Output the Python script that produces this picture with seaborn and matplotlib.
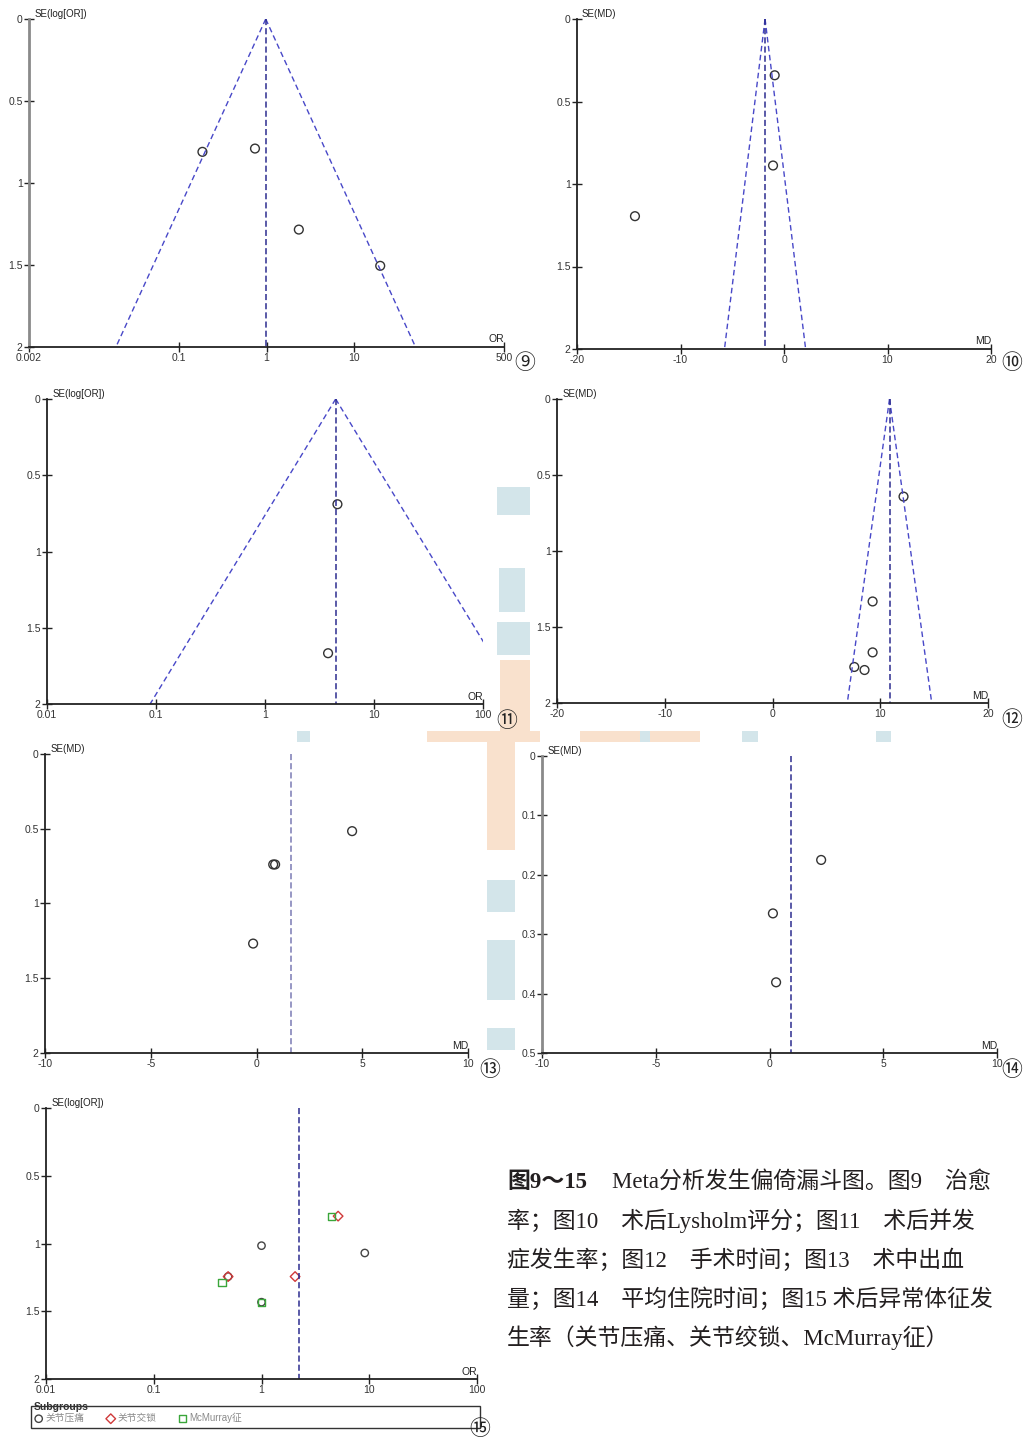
import numpy as np
import pandas as pd
import seaborn as sns
import matplotlib.pyplot as plt
from matplotlib.patches import Rectangle

W, H = 1024, 1438

# Fig 9 - cure rate (OR)
p9_or = [0.187, 0.74, 2.33, 19.6]
p9_se = [0.81, 0.79, 1.284, 1.505]
p9_pooled = 0.98

# Fig 10 - Lysholm score (MD)
p10_md = [-0.9, -1.06, -14.4]
p10_se = [0.341, 0.888, 1.195]
p10_pooled = -1.83

# Fig 11 - complications (OR)
p11_or = [4.62, 3.79]
p11_se = [0.69, 1.667]
p11_pooled = 4.45

# Fig 12 - operation time (MD)
p12_md = [12.16, 9.29, 9.29, 7.59, 8.54]
p12_se = [0.642, 1.332, 1.667, 1.763, 1.783]
p12_pooled = 10.86

# Fig 13 - blood loss (MD)
p13_md = [4.52, 0.79, 0.88, -0.16]
p13_se = [0.516, 0.739, 0.739, 1.268]
p13_pooled = 1.64

# Fig 14 - hospital stay (MD)
p14_md = [2.27, 0.15, 0.29]
p14_se = [0.175, 0.265, 0.381]
p14_pooled = 0.94

# Fig 15 - abnormal signs (OR), three subgroups
groups = ["关节压痛", "关节交锁", "McMurray征"]
p15_or = {
    "关节压痛": [1.0, 9.09, 0.49, 1.0],
    "关节交锁": [5.14, 2.05, 0.49],
    "McMurray征": [4.46, 0.43, 1.0],
}
p15_se = {
    "关节压痛": [1.016, 1.07, 1.244, 1.433],
    "关节交锁": [0.798, 1.244, 1.244],
    "McMurray征": [0.802, 1.286, 1.433],
}
p15_pooled = 2.25

or_ticks_9 = [0.002, 0.1, 1, 10, 500]
or_ticks = [0.01, 0.1, 1, 10, 100]
md_ticks_20 = [-20, -10, 0, 10, 20]
md_ticks_10 = [-10, -5, 0, 5, 10]
se_ticks = [0, 0.5, 1, 1.5, 2]
se_ticks_14 = [0, 0.1, 0.2, 0.3, 0.4, 0.5]

caption_lines = [
    "率；图10　术后Lysholm评分；图11　术后并发",
    "症发生率；图12　手术时间；图13　术中出血",
    "量；图14　平均住院时间；图15 术后异常体征发",
    "生率（关节压痛、关节绞锁、McMurray征）",
]

FUNNEL = "#4848c8"
MID = "#2c2c90"
CJK = ["Noto Sans CJK SC", "DejaVu Sans"]

sns.set_style("white")
plt.rcParams["font.family"] = ["Liberation Sans", "Noto Sans CJK SC", "DejaVu Sans"]


def add_panel(fig, box):
    x0, y0, x1, y1 = box
    return fig.add_axes([x0 / W, 1 - y1 / H, (x1 - x0) / W, (y1 - y0) / H])


def style_axes(ax, xticks, yticks, xname, yname, log=False, gray_left=False):
    if log:
        ax.set_xscale("log")
    ax.set_xlim(xticks[0], xticks[-1])
    ax.set_ylim(yticks[-1], yticks[0])
    ax.set_xticks(xticks, labels=[f"{t:g}" for t in xticks])
    ax.set_yticks(yticks, labels=[f"{t:g}" for t in yticks])
    ax.xaxis.set_minor_locator(plt.NullLocator())
    ax.set_xlabel("")
    ax.set_ylabel("")
    ax.spines[["top", "right"]].set_visible(False)
    ax.spines["bottom"].set_linewidth(1.3)
    ax.spines["bottom"].set_color("#222222")
    if gray_left:
        ax.spines["left"].set_linewidth(2)
        ax.spines["left"].set_color("#8a8a8a")
    else:
        ax.spines["left"].set_linewidth(1.3)
        ax.spines["left"].set_color("#222222")
    ax.tick_params(axis="both", which="major", direction="inout", length=7, width=1,
                   left=True, bottom=True, color="#222222",
                   labelsize=7.5, pad=1, labelcolor="#333333")
    ax.text(0.012, 1.0, yname, transform=ax.transAxes, ha="left", va="bottom",
            fontsize=7, color="#222222")
    ax.text(1.0, 0.008, xname, transform=ax.transAxes, ha="right", va="bottom",
            fontsize=7.5, color="#222222")


def draw_funnel(ax, pooled, se_max, log=False, lines=True, mid_color=MID):
    se = np.array([0.0, se_max])
    if lines:
        if log:
            left = pooled * np.exp(-1.96 * se)
            right = pooled * np.exp(1.96 * se)
        else:
            left = pooled - 1.96 * se
            right = pooled + 1.96 * se
        for xs in (left, right):
            sns.lineplot(x=xs, y=se, ax=ax, sort=False, estimator=None,
                         color=FUNNEL, linewidth=1, linestyle=(0, (4, 2.5)))
    sns.lineplot(x=[pooled, pooled], y=se, ax=ax, sort=False, estimator=None,
                 color=mid_color, linewidth=1.1, linestyle=(0, (4, 2)))


def draw_points(ax, x, y, marker="o", color="#333333", s=40, label=None):
    sns.scatterplot(x=x, y=y, ax=ax, marker=marker, s=s, facecolor="none",
                    edgecolor=color, linewidth=1, label=label, legend=False)


fig = plt.figure(figsize=(W / 100, H / 100), dpi=100)
fig.patch.set_facecolor("white")

# faint watermark pieces showing between the panels
BLUE_WM, ORANGE_WM = "#d3e5ea", "#f9e1cd"
for (x0, y0, x1, y1, c) in [
    (497, 487, 530, 515, BLUE_WM), (499, 568, 525, 612, BLUE_WM),
    (497, 622, 530, 655, BLUE_WM), (500, 660, 530, 735, ORANGE_WM),
    (427, 731, 540, 742, ORANGE_WM), (580, 731, 700, 742, ORANGE_WM),
    (297, 731, 310, 742, BLUE_WM), (640, 731, 650, 742, BLUE_WM),
    (742, 731, 758, 742, BLUE_WM), (876, 731, 891, 742, BLUE_WM),
    (487, 742, 515, 850, ORANGE_WM), (487, 880, 515, 912, BLUE_WM),
    (487, 940, 515, 1000, BLUE_WM), (487, 1028, 515, 1050, BLUE_WM),
]:
    fig.patches.append(Rectangle((x0 / W, 1 - y1 / H), (x1 - x0) / W, (y1 - y0) / H,
                                 transform=fig.transFigure, facecolor=c,
                                 edgecolor="none", zorder=-5))

# Fig 9
ax9 = add_panel(fig, (29, 19, 504, 347))
draw_funnel(ax9, p9_pooled, 2, log=True)
draw_points(ax9, p9_or, p9_se)
style_axes(ax9, or_ticks_9, se_ticks, "OR", "SE(log[OR])", log=True, gray_left=True)

# Fig 10
ax10 = add_panel(fig, (577, 19, 991, 349))
draw_funnel(ax10, p10_pooled, 2)
draw_points(ax10, p10_md, p10_se)
style_axes(ax10, md_ticks_20, se_ticks, "MD", "SE(MD)")

# Fig 11
ax11 = add_panel(fig, (47, 399, 483, 704))
draw_funnel(ax11, p11_pooled, 2, log=True)
draw_points(ax11, p11_or, p11_se)
style_axes(ax11, or_ticks, se_ticks, "OR", "SE(log[OR])", log=True)

# Fig 12
ax12 = add_panel(fig, (557, 399, 988, 703))
draw_funnel(ax12, p12_pooled, 2)
draw_points(ax12, p12_md, p12_se)
style_axes(ax12, md_ticks_20, se_ticks, "MD", "SE(MD)")

# Fig 13
ax13 = add_panel(fig, (45, 754, 468, 1053))
draw_funnel(ax13, p13_pooled, 2, lines=False, mid_color="#7a7ab4")
draw_points(ax13, p13_md, p13_se)
style_axes(ax13, md_ticks_10, se_ticks, "MD", "SE(MD)")

# Fig 14
ax14 = add_panel(fig, (542, 756, 997, 1053))
draw_funnel(ax14, p14_pooled, 0.5, lines=False)
draw_points(ax14, p14_md, p14_se)
style_axes(ax14, md_ticks_10, se_ticks_14, "MD", "SE(MD)", gray_left=True)

# Fig 15
ax15 = add_panel(fig, (46, 1108, 477, 1379))
draw_funnel(ax15, p15_pooled, 2, log=True, lines=False)
group_style = {"关节压痛": ("o", "#444444", 28),
               "关节交锁": ("D", "#d03a3a", 24),
               "McMurray征": ("s", "#3aa63a", 26)}
for g in groups:
    m, c, s = group_style[g]
    draw_points(ax15, p15_or[g], p15_se[g], marker=m, color=c, s=s, label=g)
style_axes(ax15, or_ticks, se_ticks, "OR", "SE(log[OR])", log=True)

fig.patches.append(Rectangle((31 / W, 1 - 1428 / H), 449 / W, 22 / H,
                             transform=fig.transFigure, facecolor="none",
                             edgecolor="#333333", linewidth=1))
leg = ax15.legend(title="Subgroups", loc="upper left", ncol=3, frameon=False,
                  bbox_to_anchor=(28 / W, 1 - 1396 / H), bbox_transform=fig.transFigure,
                  fontsize=7, title_fontproperties={"weight": "bold", "size": 7.5},
                  alignment="left", handletextpad=0.2, columnspacing=2.2,
                  borderpad=0.1, handlelength=1.0, labelspacing=0.1)
leg.get_title().set_color("#333333")
leg.get_title().set_bbox(dict(facecolor="white", edgecolor="none", pad=0.5))
for t in leg.get_texts():
    t.set_color("#8a8a8a")

# circled panel numbers
for label, (x, y) in zip("⑨⑩⑪⑫⑬⑭⑮",
                         [(525, 363), (1012, 363), (507, 721), (1012, 720),
                          (490, 1070), (1012, 1070), (480, 1429)]):
    fig.text(x / W, 1 - y / H, label, family=CJK, fontsize=15, color="#222222",
             ha="center", va="center")

# caption
cap_font = ["Liberation Serif", "Noto Sans CJK SC", "DejaVu Sans"]
fig.text(507 / W, 1 - 1182 / H, "图9～15", family=cap_font, fontsize=16.5,
         weight="bold", color="#231f20", ha="left", va="center")
fig.text(612 / W, 1 - 1182 / H, "Meta分析发生偏倚漏斗图。图9　治愈", family=cap_font,
         fontsize=16.5, color="#231f20", ha="left", va="center")
for i, line in enumerate(caption_lines):
    fig.text(507 / W, 1 - (1221 + 39 * i) / H, line, family=cap_font, fontsize=16.5,
             color="#231f20", ha="left", va="center")

fig.savefig("out.png", dpi=100, facecolor="white")
